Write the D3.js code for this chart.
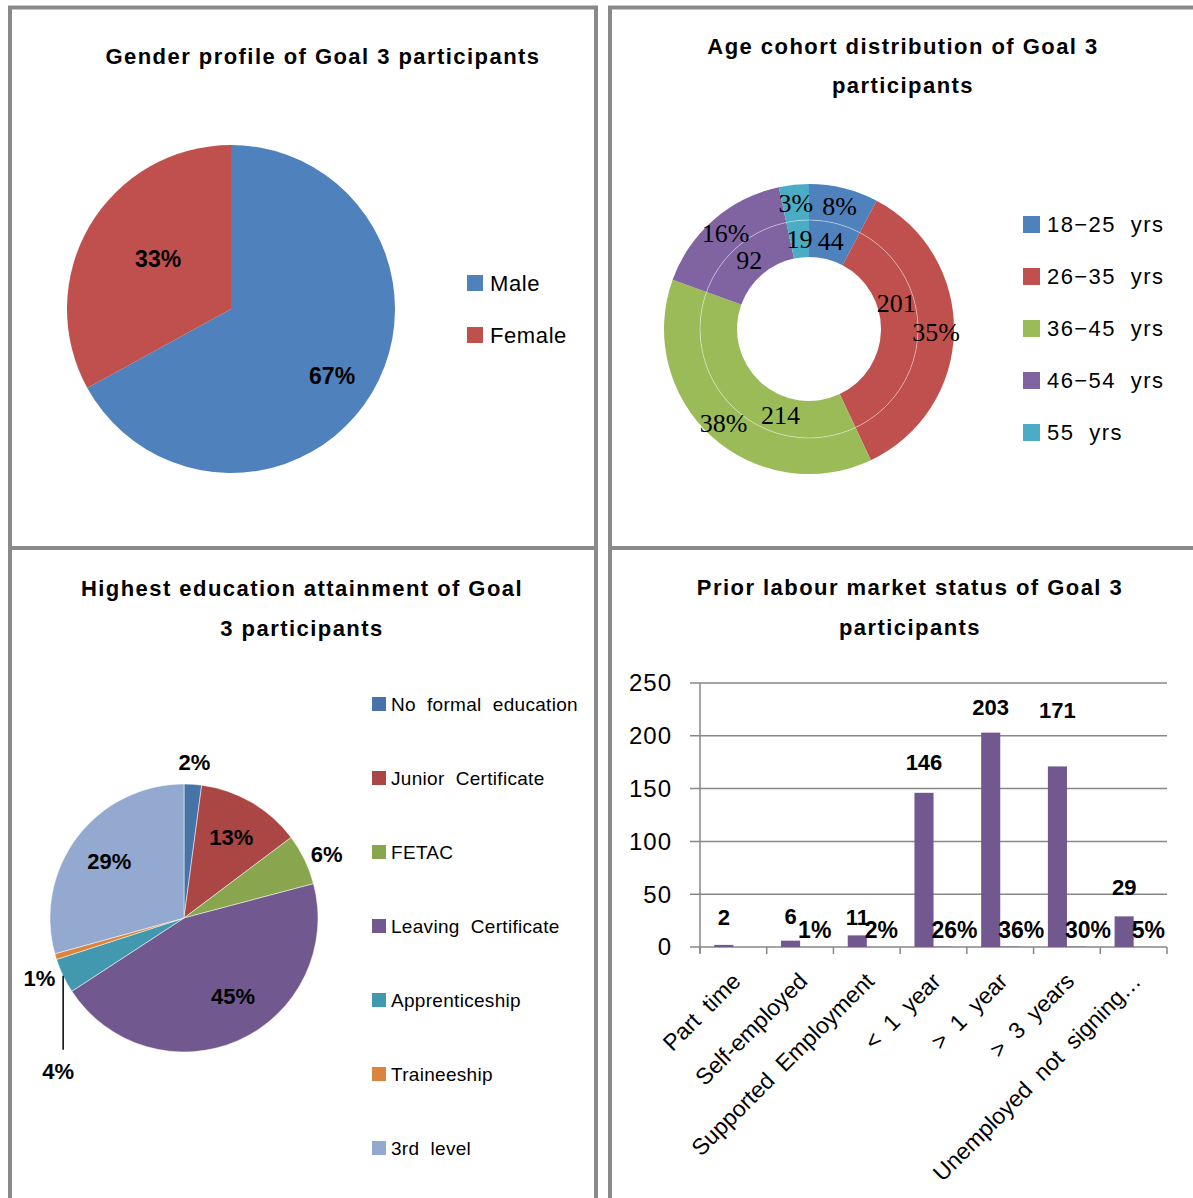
<!DOCTYPE html>
<html>
<head>
<meta charset="utf-8">
<script src="https://cdn.jsdelivr.net/npm/d3@7"></script>
<style>
  html, body { margin: 0; padding: 0; background: #fff; }
  svg { display: block; }
  .title { font-family: "Liberation Sans", Arial, sans-serif; font-weight: bold; font-size: 22px; letter-spacing: 1.45px; fill: #000; }
  .sans { font-family: "Liberation Sans", Arial, sans-serif; fill: #000; }
  .serif { font-family: "Liberation Serif", "Times New Roman", serif; fill: #000; }
</style>
</head>
<body>
<svg id="chart" width="1193" height="1198"></svg>
<script>
// ---- Gender profile ----
const genderCategories = ["Male", "Female"];
const genderValues = [67, 33];
const genderColors = ["#4F81BD", "#C0504D"];

// ---- Age cohorts (participant counts) ----
const ageCategories = ["18−25  yrs", "26−35  yrs", "36−45  yrs", "46−54  yrs", "55  yrs"];
const ageValues = [44, 201, 214, 92, 19];
const ageColors = ["#4F81BD", "#C0504D", "#9BBB59", "#8064A2", "#4BACC6"];

// ---- Highest education attainment (participant counts) ----
const eduCategories = ["No  formal  education", "Junior  Certificate", "FETAC", "Leaving  Certificate",
                       "Apprenticeship", "Traineeship", "3rd  level"];
const eduValues = [12, 72, 35, 256, 24, 4, 167];
const eduColors = ["#4674A8", "#AA4643", "#89A54E", "#71588F", "#4198AF", "#DB843D", "#93A9CF"];

// ---- Prior labour market status ----
const labourCategories = ["Part  time", "Self-employed", "Supported  Employment", "<  1  year",
                          ">  1  year", ">  3  years", "Unemployed  not  signing…"];
const labourCounts = [2, 6, 11, 146, 203, 171, 29];
const labourTicks = [0, 50, 100, 150, 200, 250];

const svg = d3.select("#chart");

// panel frames
const frame = "#8a8a8a";
[[10, 7.5, 586, 540.5], [610, 7.5, 600, 540.5], [10, 548, 586, 700], [610, 548, 600, 700]]
  .forEach(([x, y, w, h]) => svg.append("rect")
    .attr("x", x).attr("y", y).attr("width", w).attr("height", h)
    .attr("fill", "none").attr("stroke", frame).attr("stroke-width", 4));

function title(lines, cx, y0, dy) {
  lines.forEach((t, i) => svg.append("text").attr("class", "title")
    .attr("x", cx).attr("y", y0 + i * dy).attr("text-anchor", "middle").text(t));
}

const pie = d3.pie().sort(null).value(d => d);
const pct = (v, tot) => Math.round(v / tot * 100) + "%";

// ================= Gender pie =================
{
  const cx = 231, cy = 309, R = 164;
  const g = svg.append("g").attr("transform", `translate(${cx},${cy})`);
  const arcs = pie(genderValues);
  const arc = d3.arc().innerRadius(0).outerRadius(R);
  g.selectAll("path").data(arcs).join("path")
    .attr("d", arc).attr("fill", (d, i) => genderColors[i]);
  const tot = d3.sum(genderValues);
  const labelR = [0.74, 0.54];
  const labelTurn = [3, 4];
  arcs.forEach((d, i) => {
    const a = (d.startAngle + d.endAngle) / 2 + labelTurn[i] * Math.PI / 180, r = R * labelR[i];
    g.append("text").attr("class", "sans")
      .attr("x", r * Math.sin(a)).attr("y", -r * Math.cos(a)).attr("dy", "0.35em")
      .attr("text-anchor", "middle").attr("font-weight", "bold").attr("font-size", 23)
      .text(pct(d.value, tot));
  });
  const lg = svg.append("g").attr("transform", "translate(467,275)");
  genderCategories.forEach((c, i) => {
    lg.append("rect").attr("x", 0).attr("y", i * 52).attr("width", 16).attr("height", 16).attr("fill", genderColors[i]);
    lg.append("text").attr("class", "sans").attr("x", 23).attr("y", i * 52 + 8).attr("dy", "0.35em")
      .attr("font-size", 22).attr("letter-spacing", "0.6px").text(c);
  });
  title(["Gender profile of Goal 3 participants"], 323, 64, 0);
}

// ================= Age donut =================
{
  const cx = 809, cy = 329, R0 = 72, R1 = 109, R2 = 145;
  const g = svg.append("g").attr("transform", `translate(${cx},${cy})`);
  const arcs = pie(ageValues);
  const inner = d3.arc().innerRadius(R0).outerRadius(R1);
  const outer = d3.arc().innerRadius(R1).outerRadius(R2);
  g.selectAll("path.in").data(arcs).join("path").attr("class", "in")
    .attr("d", inner).attr("fill", (d, i) => ageColors[i]);
  g.selectAll("path.out").data(arcs).join("path").attr("class", "out")
    .attr("d", outer).attr("fill", (d, i) => ageColors[i]);
  g.append("circle").attr("r", R1).attr("fill", "none")
    .attr("stroke", "rgba(255,255,255,0.5)").attr("stroke-width", 0.8);
  const tot = d3.sum(ageValues);
  const innerShift = [0, -18, -24, 0, 0]; // degrees, keeps count labels clear of the ring seam
  arcs.forEach((d, i) => {
    const a = (d.startAngle + d.endAngle) / 2;
    const ai = a + innerShift[i] * Math.PI / 180;
    g.append("text").attr("class", "serif")
      .attr("x", 127 * Math.sin(a)).attr("y", -127 * Math.cos(a)).attr("dy", "0.35em")
      .attr("text-anchor", "middle").attr("font-size", 26).text(pct(d.value, tot));
    g.append("text").attr("class", "serif")
      .attr("x", 91 * Math.sin(ai)).attr("y", -91 * Math.cos(ai)).attr("dy", "0.35em")
      .attr("text-anchor", "middle").attr("font-size", 26).text(d.value);
  });
  const lg = svg.append("g").attr("transform", "translate(1023,216)");
  ageCategories.forEach((c, i) => {
    lg.append("rect").attr("x", 0).attr("y", i * 52).attr("width", 17).attr("height", 17).attr("fill", ageColors[i]);
    lg.append("text").attr("class", "sans").attr("x", 24).attr("y", i * 52 + 8.5).attr("dy", "0.35em")
      .attr("font-size", 22).attr("letter-spacing", "1.4px").style("white-space", "pre").text(c);
  });
  title(["Age cohort distribution of Goal 3", "participants"], 903, 54, 39);
}

// ================= Education pie =================
{
  const cx = 184, cy = 918, R = 134;
  const g = svg.append("g").attr("transform", `translate(${cx},${cy})`);
  const arcs = pie(eduValues);
  const arc = d3.arc().innerRadius(0).outerRadius(R);
  g.selectAll("path").data(arcs).join("path")
    .attr("d", arc).attr("fill", (d, i) => eduColors[i])
    .attr("stroke", "#fff").attr("stroke-width", 0.5);
  const tot = d3.sum(eduValues);
  // label radius (fraction of R) and angular nudge (degrees) for each slice
  const labelR = [1.165, 0.7, 1.165, 0.69, null, 1.17, 0.7];
  const labelTurn = [0, 0, 2, -8, 0, -6, 0];
  arcs.forEach((d, i) => {
    const a = (d.startAngle + d.endAngle) / 2;
    if (labelR[i] === null) {
      // leader line straight down from the rim
      const x0 = R * Math.sin(a), y0 = -R * Math.cos(a);
      g.append("line").attr("x1", x0).attr("y1", y0).attr("x2", x0).attr("y2", y0 + 74)
        .attr("stroke", "#000").attr("stroke-width", 1.5);
      g.append("text").attr("class", "sans").attr("x", x0 - 5).attr("y", y0 + 95).attr("dy", "0.35em")
        .attr("text-anchor", "middle").attr("font-weight", "bold").attr("font-size", 22)
        .text(pct(d.value, tot));
      return;
    }
    const al = a + labelTurn[i] * Math.PI / 180, r = R * labelR[i];
    g.append("text").attr("class", "sans")
      .attr("x", r * Math.sin(al)).attr("y", -r * Math.cos(al)).attr("dy", "0.35em")
      .attr("text-anchor", "middle").attr("font-weight", "bold").attr("font-size", 22)
      .text(pct(d.value, tot));
  });
  const lg = svg.append("g").attr("transform", "translate(372,697)");
  eduCategories.forEach((c, i) => {
    lg.append("rect").attr("x", 0).attr("y", i * 74).attr("width", 14).attr("height", 14).attr("fill", eduColors[i]);
    lg.append("text").attr("class", "sans").attr("x", 19).attr("y", i * 74 + 7).attr("dy", "0.35em")
      .attr("font-size", 19).attr("letter-spacing", "0.3px").style("white-space", "pre").text(c);
  });
  title(["Highest education attainment of Goal", "3 participants"], 302, 596, 40);
}

// ================= Labour market bars =================
{
  const x = d3.scaleBand().domain(labourCategories).range([700, 1167]).paddingInner(0).paddingOuter(0);
  const y = d3.scaleLinear().domain([0, 250]).range([947, 683]);
  const bw = x.bandwidth();
  const barW = bw * 0.286, gap = bw * 0.2145;
  const tot = d3.sum(labourCounts);
  const shares = labourCounts.map(v => v / tot);
  const grid = "#878787";

  // gridlines with left tick stubs
  labourTicks.forEach(t => {
    svg.append("line").attr("x1", 690).attr("x2", 1167).attr("y1", y(t)).attr("y2", y(t))
      .attr("stroke", grid).attr("stroke-width", 1.5);
    svg.append("text").attr("class", "sans").attr("x", 672).attr("y", y(t)).attr("dy", "0.35em")
      .attr("text-anchor", "end").attr("font-size", 24).attr("letter-spacing", "1px")
      .attr("fill", "#111").text(t);
  });
  svg.append("line").attr("x1", 700).attr("x2", 700).attr("y1", y(250)).attr("y2", y(0) + 6)
    .attr("stroke", grid).attr("stroke-width", 1.5);
  const edges = labourCategories.map(c => x(c)).concat([x.range()[1]]);
  edges.forEach(e => svg.append("line").attr("x1", e).attr("x2", e).attr("y1", y(0)).attr("y2", y(0) + 7)
    .attr("stroke", grid).attr("stroke-width", 1.5));

  const purple = "#71588F";
  svg.selectAll("rect.count").data(labourCounts).join("rect").attr("class", "count")
    .attr("x", (d, i) => x(labourCategories[i]) + gap).attr("width", barW)
    .attr("y", d => y(d)).attr("height", d => y(0) - y(d)).attr("fill", purple);
  svg.selectAll("rect.share").data(shares).join("rect").attr("class", "share")
    .attr("x", (d, i) => x(labourCategories[i]) + gap + barW).attr("width", barW)
    .attr("y", d => y(d)).attr("height", d => y(0) - y(d)).attr("fill", purple);

  // count labels, lifted above their bars
  const countLift = [28, 24, 18, 31, 25, 56, 29];
  labourCounts.forEach((v, i) => {
    svg.append("text").attr("class", "sans")
      .attr("x", x(labourCategories[i]) + gap + barW / 2).attr("y", y(v) - countLift[i]).attr("dy", "0.35em")
      .attr("text-anchor", "middle").attr("font-weight", "bold").attr("font-size", 22).text(v);
  });
  shares.forEach((s, i) => {
    const p = Math.round(s * 100);
    if (p === 0) return;
    svg.append("text").attr("class", "sans")
      .attr("x", x(labourCategories[i]) + gap + barW - 2).attr("y", y(s) - 17).attr("dy", "0.35em")
      .attr("text-anchor", "start").attr("font-weight", "bold").attr("font-size", 23).text(p + "%");
  });

  labourCategories.forEach(c => {
    const ax = x(c) + bw / 2 + 3, ay = 977;
    svg.append("text").attr("class", "sans")
      .attr("transform", `translate(${ax},${ay}) rotate(-45)`)
      .attr("text-anchor", "end").attr("dy", "0.35em").attr("font-size", 23)
      .style("white-space", "pre").text(c);
  });
  title(["Prior labour market status of Goal 3", "participants"], 910, 595, 40);
}
</script>
</body>
</html>
